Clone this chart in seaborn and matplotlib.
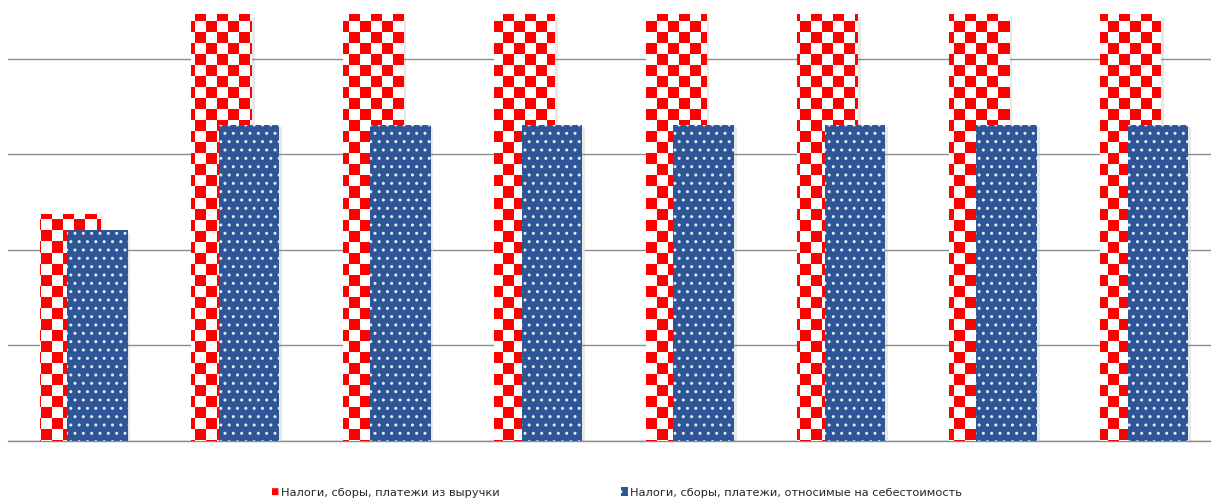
import numpy as np
import pandas as pd
import seaborn as sns
import matplotlib.pyplot as plt
from matplotlib.colors import ListedColormap
from matplotlib.patches import Patch
import matplotlib.patheffects as pe

# периоды (подписи по оси X на исходной диаграмме скрыты)
periods = ["1", "2", "3", "4", "5", "6", "7", "8"]
# налоги, сборы, платежи из выручки
revenue_taxes = [2380, 4470, 4470, 4470, 4470, 4470, 4470, 4470]
# налоги, сборы, платежи, относимые на себестоимость
cost_taxes = [2210, 3310, 3310, 3310, 3310, 3310, 3310, 3310]

label_rev = "Налоги, сборы, платежи из выручки"
label_cost = "Налоги, сборы, платежи, относимые на себестоимость"

df = pd.DataFrame({"period": periods, "rev": revenue_taxes, "cost": cost_taxes})

sns.set_style("white")
plt.rcParams["font.family"] = ["DejaVu Sans"]

W, H = 1211, 502
fig = plt.figure(figsize=(W / 100, H / 100), dpi=100)
ax = fig.add_axes([8 / W, 60 / H, 1203 / W, 430 / H])

shadow = [pe.SimplePatchShadow(offset=(2, -2), shadow_rgbFace="0.55", alpha=0.2), pe.Normal()]

# red bars (back)
sns.barplot(data=df, x="period", y="rev", color="red", saturation=1, width=0.4,
            errorbar=None, ax=ax, zorder=2)
red_bars = list(ax.patches)
for p in red_bars:
    p.set_x(p.get_x() - 0.09)
    p.set_linewidth(0)
    p.set_path_effects(shadow)

# blue bars (front) with white dots
sns.barplot(data=df, x="period", y="cost", color="#2E5596", saturation=1, width=0.4,
            errorbar=None, ax=ax, zorder=4)
blue_bars = [p for p in ax.patches if p not in red_bars]
for p in blue_bars:
    p.set_x(p.get_x() + 0.09)
    p.set_edgecolor("#e4eaf4")
    p.set_linewidth(0)
    p.set_hatch("..")
    p.set_path_effects(shadow)

xlim = (-0.5, 7.44)
ylim = (0, 4500)

# checkerboard fill for red bars, clipped to each bar
ax_w, ax_h = 1203, 430
cell = 11
ii, jj = np.mgrid[0:ax_h, 0:ax_w]
checker = ((ii // cell + jj // cell) % 2).astype(float)
cmap = ListedColormap(["white", "red"])
for p in red_bars:
    im = ax.imshow(checker, extent=(xlim[0], xlim[1], ylim[0], ylim[1]), origin="upper",
                   aspect="auto", interpolation="nearest", cmap=cmap, zorder=3)
    im.set_clip_path(p)

ax.set_xlim(*xlim)
ax.set_ylim(*ylim)
ax.set_yticks([0, 1000, 2000, 3000, 4000])
ax.yaxis.grid(True, color="#8c8c8c", linewidth=1.0)
ax.set_axisbelow(True)
ax.tick_params(left=False, bottom=False, labelleft=False, labelbottom=False)
ax.set_xlabel("")
ax.set_ylabel("")
for s in ["left", "right", "top"]:
    ax.spines[s].set_visible(False)
ax.spines["bottom"].set_color("#8c8c8c")
ax.spines["bottom"].set_linewidth(1.0)

handles = [
    Patch(facecolor="red", edgecolor="white", hatch="++", linewidth=0),
    Patch(facecolor="#2E5596", edgecolor="white", hatch="..", linewidth=0),
]
fig.legend(handles, [label_rev, label_cost], loc="center", ncol=2,
           bbox_to_anchor=(617 / W, 9 / H), frameon=False, fontsize=8.2,
           handlelength=0.6, handleheight=0.9, handletextpad=0.2, columnspacing=10.6)

fig.savefig("out.png", dpi=100)
